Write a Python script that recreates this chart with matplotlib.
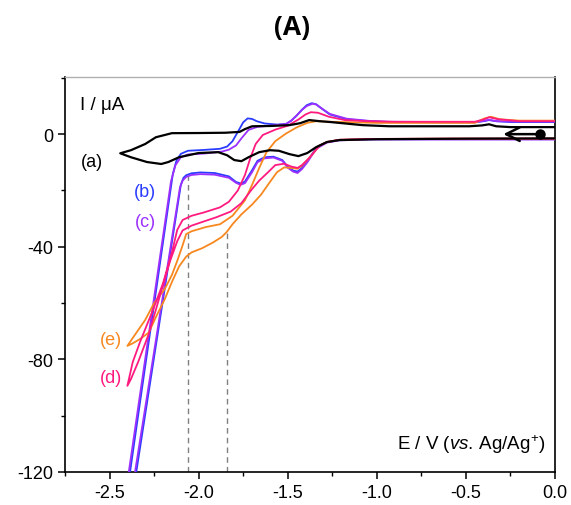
import matplotlib.pyplot as plt

plt.rcParams['font.family'] = ['Liberation Sans', 'DejaVu Sans']
plt.rcParams['axes.unicode_minus'] = False
plt.rcParams['mathtext.fontset'] = 'custom'
plt.rcParams['mathtext.rm'] = 'Liberation Sans'
plt.rcParams['mathtext.it'] = 'Liberation Sans:italic'

# potential (V vs Ag/Ag+) and current (uA), forward scan then return scan
# (a) black
e_a = [0, -0.5, -1.0, -1.21, -1.28, -1.34, -1.39, -1.44, -1.49, -1.55, -1.60, -1.66,
       -1.72, -1.76, -1.80, -1.84, -1.89, -2.00, -2.11, -2.17, -2.21, -2.29, -2.38, -2.44,
       -2.38, -2.30, -2.24, -2.15, -2.00, -1.85, -1.77, -1.74, -1.70, -1.60, -1.49, -1.43,
       -1.38, -1.32, -1.26, -1.08, -0.93, -0.48, -0.41, -0.37, -0.33, -0.25, 0]
i_a = [-1.5, -1.6, -1.8, -2.1, -2.8, -4.6, -6.7, -7.8, -7.1, -5.9, -5.7, -6.4,
       -8.2, -9.6, -9.2, -7.5, -6.4, -6.7, -8.2, -9.9, -10.6, -9.9, -8.2, -6.8,
       -5.7, -3.5, -1.1, 0.35, 0.4, 0.5, 0.8, 1.8, 2.8, 2.9, 3.2, 3.9,
       5.0, 4.6, 4.3, 3.2, 2.8, 2.8, 3.1, 3.5, 2.8, 2.5, 2.5]

# (b) blue
e_b = [0, -0.6, -1.04, -1.21, -1.28, -1.34, -1.39, -1.42, -1.445, -1.47, -1.50, -1.53,
       -1.58, -1.63, -1.67, -1.70, -1.74, -1.76, -1.79, -1.83, -1.91, -1.99, -2.04, -2.07,
       -2.085, -2.10, -2.12, -2.15, -2.20, -2.25, -2.30, -2.35, -2.40,
       -2.385, -2.33, -2.27, -2.21, -2.17, -2.145, -2.125, -2.10, -2.06, -1.97, -1.88,
       -1.84, -1.81, -1.78, -1.75, -1.725, -1.70, -1.674, -1.63, -1.56, -1.51, -1.48,
       -1.45, -1.42, -1.393, -1.365, -1.34, -1.32, -1.29, -1.264, -1.17, -1.04, -0.93,
       -0.6, -0.45, -0.40, -0.37, -0.33, -0.25, 0]
i_b = [-1.8, -1.8, -1.8, -2.1, -2.8, -4.9, -9.6, -12.0, -13.3, -12.9, -11.6, -9.2,
       -8.0, -8.2, -9.5, -12.8, -16.8, -17.6, -17.0, -15.0, -13.8, -13.6, -13.9, -14.6,
       -15.5, -18.0, -26.2, -38.4, -58.8, -79.2, -99.6, -120.0, -140.0,
       -120.0, -95.7, -69.3, -42.8, -25.2, -14.2, -9.5, -7.0, -5.9, -5.6, -5.2,
       -4.4, -2.5, 0.8, 4.2, 5.6, 5.4, 4.6, 3.8, 3.4, 3.6, 4.8,
       6.6, 8.7, 10.3, 11.0, 10.6, 9.6, 8.2, 7.0, 5.3, 4.6, 4.3,
       4.2, 4.2, 4.6, 5.0, 4.6, 4.3, 4.3]

# (c) purple
e_c = [0, -0.6, -1.04, -1.21, -1.28, -1.34, -1.39, -1.42, -1.445, -1.47, -1.50, -1.53,
       -1.58, -1.63, -1.67, -1.70, -1.74, -1.765, -1.79, -1.83, -1.91, -1.99, -2.04, -2.07,
       -2.09, -2.105, -2.125, -2.15, -2.20, -2.25, -2.30, -2.357, -2.40,
       -2.392, -2.34, -2.28, -2.22, -2.18, -2.155, -2.13, -2.10, -2.06, -1.97, -1.87,
       -1.83, -1.79, -1.76, -1.72, -1.67, -1.60, -1.51, -1.48, -1.45, -1.42, -1.393,
       -1.36, -1.34, -1.32, -1.29, -1.264, -1.17, -1.04, -0.93, -0.6, -0.45, -0.40,
       -0.37, -0.33, -0.25, 0]
i_c = [-1.9, -1.9, -1.9, -2.2, -3.0, -5.2, -10.0, -12.4, -13.8, -13.3, -11.9, -9.5,
       -8.3, -8.6, -10.0, -13.5, -17.4, -18.0, -17.3, -15.5, -14.4, -14.2, -14.5, -15.2,
       -16.5, -19.0, -27.0, -37.0, -57.2, -77.2, -97.2, -120.0, -138.0,
       -120.0, -97.3, -71.2, -45.0, -27.6, -16.7, -11.0, -8.2, -7.2, -6.9, -6.2,
       -5.5, -4.0, -1.5, 1.5, 2.6, 3.0, 3.6, 4.8, 6.6, 8.6, 10.0,
       10.8, 10.5, 9.6, 8.3, 7.2, 5.5, 4.7, 4.4, 4.3, 4.3, 4.7,
       5.1, 4.6, 4.5, 4.5]

# (d) pink
e_d = [0, -0.6, -1.04, -1.21, -1.28, -1.32, -1.38, -1.42, -1.445, -1.48, -1.52, -1.57,
       -1.61, -1.66, -1.70, -1.76, -1.82, -1.90, -1.98, -2.04, -2.09, -2.12, -2.16, -2.22,
       -2.28, -2.34, -2.38, -2.40,
       -2.37, -2.33, -2.26, -2.20, -2.15, -2.12, -2.09, -2.04, -1.97, -1.88, -1.83, -1.78,
       -1.74, -1.71, -1.68, -1.64, -1.57, -1.50, -1.44, -1.40, -1.37, -1.33, -1.27, -1.18,
       -1.05, -0.9, -0.45, -0.40, -0.37, -0.32, -0.20, 0]
i_d = [-1.6, -1.6, -1.7, -2.0, -2.8, -4.0, -8.5, -11.0, -12.0, -11.5, -10.5, -11.0,
       -13.5, -16.5, -19.5, -24.5, -27.5, -29.5, -31.2, -32.5, -34.2, -38.0, -45.0, -58.0,
       -71.0, -81.0, -87.0, -89.4,
       -81.0, -74.0, -63.0, -53.0, -42.0, -34.0, -30.5, -29.0, -27.8, -26.0, -24.0, -20.0,
       -14.5, -8.5, -3.5, -0.3, 1.6, 3.0, 5.2, 7.0, 7.8, 7.6, 6.2, 5.0,
       4.6, 4.4, 4.4, 5.2, 6.0, 5.3, 4.6, 4.6]

# (e) orange
e_e = [0, -0.6, -1.04, -1.21, -1.28, -1.32, -1.38, -1.42, -1.445, -1.48, -1.52, -1.56,
       -1.60, -1.65, -1.70, -1.76, -1.81, -1.843, -1.87, -1.92, -1.98, -2.04, -2.07, -2.11,
       -2.15, -2.19, -2.24, -2.28, -2.33, -2.37, -2.40,
       -2.36, -2.30, -2.25, -2.19, -2.15, -2.12, -2.09, -2.07, -2.04, -1.96, -1.88, -1.81,
       -1.74, -1.70, -1.66, -1.62, -1.57, -1.51, -1.45, -1.39, -1.34, -1.26, -1.0, -0.45,
       -0.40, -0.36, -0.31, -0.2, 0]
i_e = [-1.6, -1.6, -1.7, -2.0, -2.8, -4.0, -8.5, -11.2, -12.3, -12.0, -11.8, -13.5,
       -17.0, -21.5, -25.0, -28.5, -32.0, -34.8, -36.5, -38.5, -40.5, -42.0, -43.5, -47.0,
       -52.5, -58.6, -65.0, -70.5, -72.8, -74.3, -75.2,
       -71.5, -66.0, -60.0, -55.0, -50.0, -45.0, -39.5, -35.5, -34.5, -33.0, -32.0, -29.0,
       -23.5, -18.0, -12.0, -6.5, -2.5, 0.2, 2.4, 4.0, 4.6, 4.4, 4.0, 4.0,
       5.5, 6.2, 5.3, 4.8, 4.8]

# guide lines (potential, current where they stop)
dash_e = [-2.06, -1.843]
dash_top = [-14.9, -34.8]

# scan start and direction
start_e, start_i = -0.084, 0.0
arrow_end_e = -0.29

fig = plt.figure(figsize=(5.71, 5.06), dpi=100)
ax = fig.add_axes([65 / 571, 33 / 506, 490 / 571, 395 / 506])

ax.vlines(dash_e, -120, dash_top, colors='#808080', linestyles=(0, (4, 3)), lw=1.0, zorder=1)

ax.plot(e_b, i_b, color='#2a3cff', lw=1.3, zorder=3)
ax.plot(e_c, i_c, color='#9b30ff', lw=1.3, zorder=3)
ax.plot(e_e, i_e, color='#f7881f', lw=1.3, zorder=3)
ax.plot(e_d, i_d, color='#ff1a80', lw=1.3, zorder=3)
ax.plot(e_a, i_a, color='black', lw=1.6, zorder=4)

ax.plot(start_e, start_i, 'o', color='black', ms=6.5, zorder=5)
ax.annotate('', xy=(arrow_end_e, start_i), xytext=(start_e, start_i),
            arrowprops=dict(arrowstyle='->,head_length=0.7,head_width=0.35', lw=1.8,
                            color='black', shrinkA=0, shrinkB=0, mutation_scale=14),
            zorder=5)

ax.text(-2.60, -9.6, '(a)', color='black', fontsize=13, ha='center', va='center')
ax.text(-2.30, -20.2, '(b)', color='#2a3cff', fontsize=13, ha='center', va='center')
ax.text(-2.30, -30.9, '(c)', color='#9b30ff', fontsize=13, ha='center', va='center')
ax.text(-2.49, -86.6, '(d)', color='#ff1a80', fontsize=13, ha='center', va='center')
ax.text(-2.49, -73.1, '(e)', color='#f7881f', fontsize=13, ha='center', va='center')

ax.text(0.031, 0.93, 'I / μA', transform=ax.transAxes, fontsize=13.5, ha='left', va='center')
ax.text(0.98, 0.071, r'E / V ($\mathit{vs.}\,$Ag/Ag$^{+}$)', transform=ax.transAxes,
        fontsize=13.5, ha='right', va='center')

ax.set_xlim(-2.75, 0.0)
ax.set_ylim(-120, 20.3)
ax.set_xticks([-2.5, -2.0, -1.5, -1.0, -0.5, 0.0])
ax.set_xticklabels(['-2.5', '-2.0', '-1.5', '-1.0', '-0.5', '0.0'])
ax.set_xticks([-2.75, -2.25, -1.75, -1.25, -0.75, -0.25], minor=True)
ax.set_yticks([0, -40, -80, -120])
ax.set_yticklabels(['0', '-40', '-80', '-120'])
ax.set_yticks([20, -20, -60, -100], minor=True)
ax.tick_params(direction='out', labelsize=13, length=5, width=1.1)
ax.tick_params(which='minor', direction='out', length=3, width=1.0)
for side in ['left', 'bottom', 'right']:
    ax.spines[side].set_linewidth(1.2)
ax.spines['top'].set_color('#b0b0b0')
ax.spines['top'].set_linewidth(1.0)

fig.text(292 / 571, 1 - 28 / 506, '(A)', fontsize=19, fontweight='bold', family='Open Sans',
         ha='center', va='center')

fig.savefig('out.png', dpi=100)
